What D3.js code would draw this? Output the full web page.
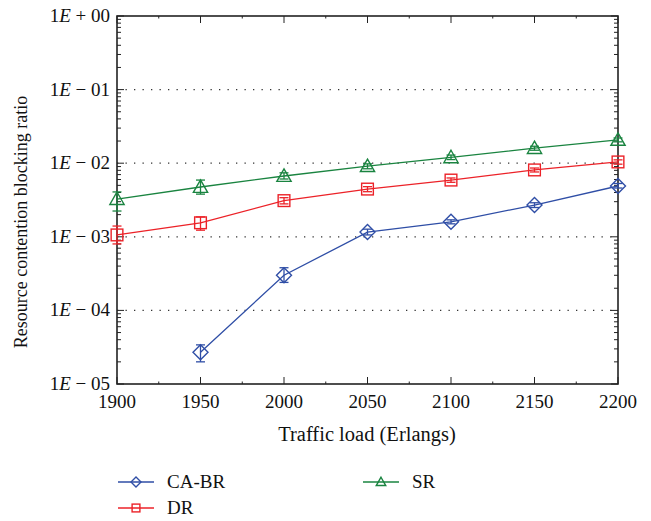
<!DOCTYPE html>
<html><head><meta charset="utf-8">
<script src="https://cdn.jsdelivr.net/npm/d3@7"></script>
<style>body{margin:0;background:#fff} text{font-family:"Liberation Serif","Times New Roman","DejaVu Serif",serif;}</style>
</head><body>
<svg id="c" width="651" height="521"></svg>
<script>
const loads = [1900, 1950, 2000, 2050, 2100, 2150, 2200];
const seriesNames = ["CA-BR", "DR", "SR"];
const cabr = [null, 2.7e-5, 3.0e-4, 1.16e-3, 1.6e-3, 2.7e-3, 4.9e-3];
const cabrLo = [null, 2.0e-5, 2.4e-4, 1.06e-3, 1.5e-3, 2.5e-3, 4.6e-3];
const cabrHi = [null, 3.4e-5, 3.8e-4, 1.27e-3, 1.7e-3, 2.9e-3, 5.3e-3];
const dr = [1.06e-3, 1.55e-3, 3.1e-3, 4.45e-3, 5.9e-3, 8.1e-3, 1.04e-2];
const drLo = [8.0e-4, 1.23e-3, 2.8e-3, 4.1e-3, 5.5e-3, 7.6e-3, 9.7e-3];
const drHi = [1.4e-3, 1.86e-3, 3.4e-3, 4.8e-3, 6.3e-3, 8.6e-3, 1.11e-2];
const sr = [3.25e-3, 4.75e-3, 6.7e-3, 9.1e-3, 1.2e-2, 1.6e-2, 2.07e-2];
const srLo = [2.24e-3, 3.8e-3, 6.1e-3, 8.4e-3, 1.12e-2, 1.5e-2, 1.95e-2];
const srHi = [4.07e-3, 5.9e-3, 7.4e-3, 9.8e-3, 1.29e-2, 1.7e-2, 2.2e-2];
const yTickVals = [1, 1e-1, 1e-2, 1e-3, 1e-4, 1e-5];
const yTickExp = ["+ 00", "− 01", "− 02", "− 03", "− 04", "− 05"];
const xTitle = "Traffic load (Erlangs)";
const yTitle = "Resource contention blocking ratio";

const colors = {"CA-BR": "#2f4ea6", "DR": "#ec2228", "SR": "#1a8440"};
const shapes = {"CA-BR": "diamond", "DR": "square", "SR": "triangle"};

const svg = d3.select("#c");
const L = 117, R = 618, T = 16, B = 384;
const x = d3.scaleLinear().domain([1900, 2200]).range([L, R]);
const y = d3.scaleLog().domain([1e-5, 1]).range([B, T]);

svg.append("g").selectAll("line").data(yTickVals.slice(1, 5)).join("line")
  .attr("x1", L).attr("x2", R).attr("y1", d => y(d)).attr("y2", d => y(d))
  .attr("stroke", "#333").attr("stroke-width", 1.2).attr("stroke-dasharray", "1.3,7.2");

const minor = [];
for (let e = -5; e < 0; e++) for (let m = 2; m <= 9; m++) minor.push(m * Math.pow(10, e));
const axisColor = "#222";
function yAxisTicks(side) {
  const g = svg.append("g").attr("transform", `translate(${side === "left" ? L : R},0)`);
  const dir = side === "left" ? 1 : -1;
  g.selectAll("line.mn").data(minor).join("line")
    .attr("x1", 0).attr("x2", dir * 4).attr("y1", d => y(d)).attr("y2", d => y(d))
    .attr("stroke", axisColor).attr("stroke-width", 1);
  g.selectAll("line.mj").data(yTickVals).join("line")
    .attr("x1", 0).attr("x2", dir * 7).attr("y1", d => y(d)).attr("y2", d => y(d))
    .attr("stroke", axisColor).attr("stroke-width", 1);
}
yAxisTicks("left"); yAxisTicks("right");

const xMaj = d3.range(1900, 2201, 50);
const xMin = d3.range(1925, 2200, 50);
[[B, -1], [T, 1]].forEach(([yy, dir]) => {
  const g = svg.append("g");
  g.selectAll("line.mj").data(xMaj).join("line")
    .attr("x1", d => x(d)).attr("x2", d => x(d)).attr("y1", yy).attr("y2", yy + dir * 7)
    .attr("stroke", axisColor).attr("stroke-width", 1);
  g.selectAll("line.mn").data(xMin).join("line")
    .attr("x1", d => x(d)).attr("x2", d => x(d)).attr("y1", yy).attr("y2", yy + dir * 2.5)
    .attr("stroke", axisColor).attr("stroke-width", 1);
});

svg.append("rect").attr("x", L).attr("y", T).attr("width", R - L).attr("height", B - T)
  .attr("fill", "none").attr("stroke", axisColor).attr("stroke-width", 1.6);

svg.append("g").selectAll("text").data(xMaj).join("text")
  .attr("x", d => x(d)).attr("y", B + 24).attr("text-anchor", "middle")
  .attr("font-size", 19).attr("fill", "#111").text(d => d);

const yl = svg.append("g").selectAll("text").data(yTickVals).join("text")
  .attr("x", L - 7).attr("y", d => y(d) + 6).attr("text-anchor", "end")
  .attr("font-size", 19).attr("fill", "#111");
yl.append("tspan").text("1");
yl.append("tspan").attr("font-style", "italic").text("E");
yl.append("tspan").text((d, i) => " " + yTickExp[i]);

svg.append("text").attr("x", 367).attr("y", 441).attr("text-anchor", "middle")
  .attr("font-size", 20.5).attr("fill", "#111").text(xTitle);
svg.append("text").attr("transform", `translate(27,222) rotate(-90)`)
  .attr("text-anchor", "middle").attr("font-size", 18)
  .attr("fill", "#111").text(yTitle);

function marker(g, shape, cx, cy, s, color) {
  if (shape === "diamond") {
    g.append("path").attr("d", `M${cx},${cy - s}L${cx + s},${cy}L${cx},${cy + s}L${cx - s},${cy}Z`)
      .attr("fill", "none").attr("stroke", color).attr("stroke-width", 1.4);
  } else if (shape === "square") {
    const h = s * 0.78;
    g.append("rect").attr("x", cx - h).attr("y", cy - h).attr("width", 2 * h).attr("height", 2 * h)
      .attr("fill", "none").attr("stroke", color).attr("stroke-width", 1.4);
  } else {
    const h = s * 0.95;
    g.append("path").attr("d", `M${cx},${cy - h}L${cx + h},${cy + h * 0.75}L${cx - h},${cy + h * 0.75}Z`)
      .attr("fill", "none").attr("stroke", color).attr("stroke-width", 1.4);
  }
}

const data = [
  {name: "CA-BR", v: cabr, lo: cabrLo, hi: cabrHi},
  {name: "DR", v: dr, lo: drLo, hi: drHi},
  {name: "SR", v: sr, lo: srLo, hi: srHi}
];
const line = d3.line().defined(d => d[1] != null).x(d => x(d[0])).y(d => y(d[1]));
data.forEach(s => {
  const c = colors[s.name];
  const g = svg.append("g");
  const pts = loads.map((l, i) => [l, s.v[i], s.lo[i], s.hi[i]]);
  g.append("path").attr("d", line(pts)).attr("fill", "none").attr("stroke", c).attr("stroke-width", 1.3);
  pts.filter(p => p[1] != null).forEach(p => {
    const cx = x(p[0]);
    g.append("line").attr("x1", cx).attr("x2", cx).attr("y1", y(p[2])).attr("y2", y(p[3]))
      .attr("stroke", c).attr("stroke-width", 1.3);
    [p[2], p[3]].forEach(e => g.append("line").attr("x1", cx - 4.5).attr("x2", cx + 4.5)
      .attr("y1", y(e)).attr("y2", y(e)).attr("stroke", c).attr("stroke-width", 1.3));
    marker(g, shapes[s.name], cx, y(p[1]), 7.5, c);
  });
});

const legendPos = [{n: "CA-BR", x: 118, y: 482}, {n: "DR", x: 118, y: 508}, {n: "SR", x: 363, y: 482}];
legendPos.forEach(p => {
  const c = colors[p.n];
  const g = svg.append("g");
  g.append("line").attr("x1", p.x).attr("x2", p.x + 36).attr("y1", p.y).attr("y2", p.y)
    .attr("stroke", c).attr("stroke-width", 1.3);
  marker(g, shapes[p.n], p.x + 18, p.y, 5, c);
  g.append("text").attr("x", p.x + 49).attr("y", p.y + 6)
    .attr("font-size", 19).attr("fill", "#111").text(p.n);
});
</script>
</body></html>
